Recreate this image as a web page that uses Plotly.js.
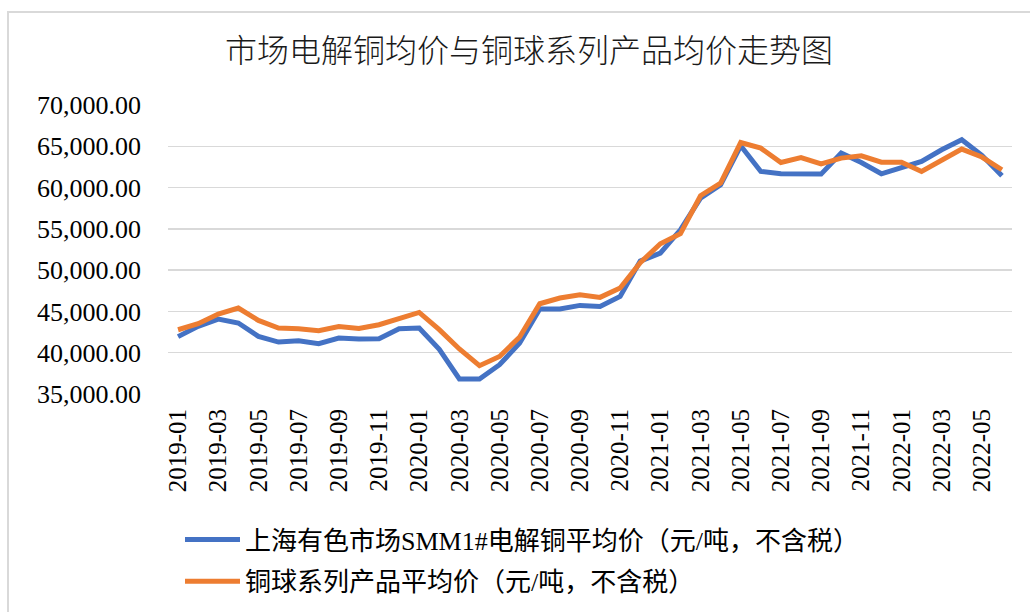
<!DOCTYPE html>
<html>
<head>
<meta charset="utf-8">
<script src="https://cdn.plot.ly/plotly-3.0.1.min.js"></script>
<style>
  html, body { margin: 0; padding: 0; background: #fff; }
  #wrap { position: relative; width: 1030px; height: 612px; }
  #chart { width: 1030px; height: 612px; }
  #frame { position: absolute; left: 7px; top: 11px; width: 1100px; height: 700px;
           border-left: 2px solid #d9d9d9; border-top: 2px solid #d9d9d9; pointer-events: none; }
</style>
</head>
<body>
<div id="wrap">
  <div id="chart"></div>
  <div id="frame"></div>
</div>
<script>
const months = ['2019-01','2019-02','2019-03','2019-04','2019-05','2019-06','2019-07','2019-08','2019-09','2019-10','2019-11','2019-12',
  '2020-01','2020-02','2020-03','2020-04','2020-05','2020-06','2020-07','2020-08','2020-09','2020-10','2020-11','2020-12',
  '2021-01','2021-02','2021-03','2021-04','2021-05','2021-06','2021-07','2021-08','2021-09','2021-10','2021-11','2021-12',
  '2022-01','2022-02','2022-03','2022-04','2022-05','2022-06'];
const tickLabels = ['2019-01','2019-03','2019-05','2019-07','2019-09','2019-11','2020-01','2020-03','2020-05','2020-07','2020-09','2020-11',
  '2021-01','2021-03','2021-05','2021-07','2021-09','2021-11','2022-01','2022-03','2022-05'];
const smmName = '上海有色市场SMM1#电解铜平均价（元/吨，不含税）';
const smmPrice = [41950, 43200, 44080, 43600, 41970, 41290, 41450, 41090, 41780, 41650, 41690, 42900,
  42990, 40400, 36820, 36820, 38550, 41170, 45290, 45290, 45730, 45610, 46820, 51100,
  52070, 54890, 58730, 60340, 65060, 61950, 61670, 61630, 61630, 64180, 63040, 61670,
  62360, 63160, 64580, 65790, 63900, 61430];
const ballName = '铜球系列产品平均价（元/吨，不含税）';
const ballPrice = [42780, 43510, 44680, 45410, 43910, 42990, 42900, 42660, 43180, 42940, 43390, 44200,
  44880, 42800, 40450, 38430, 39550, 41900, 45930, 46620, 47020, 46700, 47830, 50900,
  53200, 54410, 59010, 60550, 65460, 64780, 63040, 63640, 62880, 63570, 63850, 63080,
  63080, 61950, 63290, 64660, 63700, 62160];
const chartTitle = '市场电解铜均价与铜球系列产品均价走势图';

const serif = 'Liberation Serif, "Times New Roman", "Noto Sans CJK SC", serif';

const traces = [
  { x: months, y: smmPrice, name: smmName, legendgroup: 'smm', type: 'scatter', mode: 'lines',
    line: { color: '#4472C4', width: 5, shape: 'linear' } },
  { x: months, y: ballPrice, name: ballName, legendgroup: 'ball', type: 'scatter', mode: 'lines',
    line: { color: '#ED7D31', width: 5, shape: 'linear' } }
];

const layout = {
  width: 1030, height: 612,
  paper_bgcolor: '#ffffff', plot_bgcolor: '#ffffff',
  margin: { l: 168, r: 18, t: 105, b: 218, autoexpand: false },
  title: { text: chartTitle, x: 529/1030, xref: 'container', xanchor: 'center',
           y: 1 - 51/612, yref: 'container', yanchor: 'middle',
           font: { family: '"Noto Sans CJK SC", sans-serif', size: 32, weight: 300, color: '#1a1a1a' } },
  xaxis: { type: 'category', categoryorder: 'array', categoryarray: months,
           range: [-0.5, months.length - 0.5], automargin: false,
           tickmode: 'array', tickvals: tickLabels, ticktext: tickLabels,
           tickangle: -90, showgrid: false, showline: false, zeroline: false, ticks: '',
           ticklabelstandoff: 9,
           tickfont: { family: serif, size: 25, color: '#000000' } },
  yaxis: { range: [35000, 70000], dtick: 5000, tick0: 35000, tickformat: ',.2f',
           automargin: false,
           showgrid: true, gridcolor: '#d9d9d9', gridwidth: 1.5,
           showline: false, zeroline: false, ticks: '', ticklabelstandoff: 26,
           tickfont: { family: serif, size: 26, color: '#000000' } },
  showlegend: true,
  legend: { orientation: 'v', xref: 'container', yref: 'container',
            x: 180/1030, xanchor: 'left', y: 1 - 516/612, yanchor: 'top',
            itemwidth: 55, bgcolor: 'rgba(0,0,0,0)', tracegroupgap: 5,
            font: { family: serif, size: 26, color: '#000000' } },
  hovermode: false
};

Plotly.newPlot('chart', traces, layout, { displayModeBar: false, staticPlot: true });
</script>
</body>
</html>
